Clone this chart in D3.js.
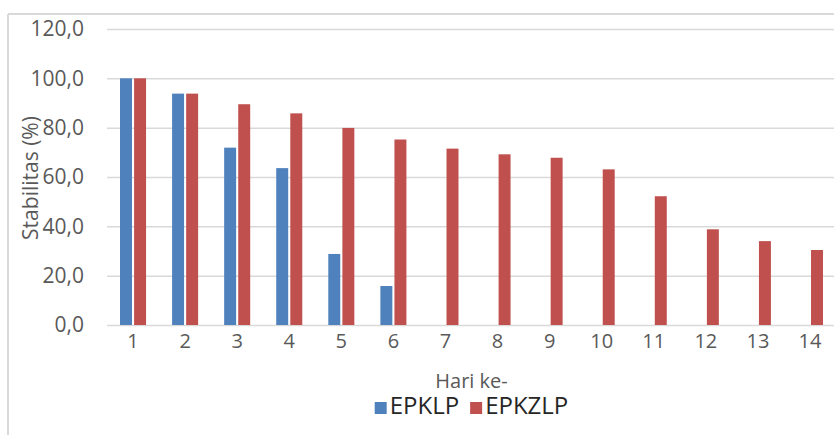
<!DOCTYPE html>
<html>
<head>
<meta charset="utf-8">
<script src="https://cdn.jsdelivr.net/npm/d3@7"></script>
<style>
  html, body { margin: 0; padding: 0; background: #fff; }
  svg { display: block; }
  text { font-family: "Open Sans", Lato, sans-serif; }
</style>
</head>
<body>
<svg id="chart" width="834" height="435"></svg>
<script>
// Stability (%) per day for the two formulations
const days = ["1","2","3","4","5","6","7","8","9","10","11","12","13","14"];
const seriesNames = ["EPKLP", "EPKZLP"];
const epklp  = [100.0, 93.8, 71.9, 63.6, 28.8, 15.8, null, null, null, null, null, null, null, null];
const epkzlp = [100.0, 93.8, 89.5, 85.8, 79.9, 75.2, 71.5, 69.2, 67.8, 63.1, 52.2, 38.8, 34.0, 30.4];
const yTicks = [0, 20, 40, 60, 80, 100, 120];
const colors = ["#4f81bd", "#c0504d"];

const svg = d3.select("#chart");
const W = 834, H = 435;
const plot = { left: 107, right: 836, top: 29, bottom: 325 };

// chart frame (left and top edges visible)
svg.append("line").attr("x1", 8).attr("x2", 8).attr("y1", 14).attr("y2", H)
  .attr("stroke", "#d9d9d9").attr("stroke-width", 2);
svg.append("line").attr("x1", 8).attr("x2", W).attr("y1", 14).attr("y2", 14)
  .attr("stroke", "#d9d9d9").attr("stroke-width", 2);

const x = d3.scaleBand().domain(days).range([plot.left, plot.right])
  .paddingInner(0.5).paddingOuter(0.25);
const xs = d3.scaleBand().domain(seriesNames).range([0, x.bandwidth()]).paddingInner(0.15);
const y = d3.scaleLinear().domain([0, 120]).range([plot.bottom, plot.top]);

const fmt = v => d3.format(".1f")(v).replace(".", ",");

// gridlines + y labels
const yAxis = d3.axisLeft(y).tickValues(yTicks).tickFormat(fmt)
  .tickSize(-(plot.right - plot.left)).tickPadding(23);
const gy = svg.append("g").attr("transform", `translate(${plot.left},0)`).call(yAxis);
gy.select(".domain").remove();
gy.selectAll(".tick line").attr("stroke", "#d9d9d9").attr("stroke-width", 1.5);
gy.selectAll(".tick text").attr("fill", "#595959").style("font-size", "21px");

// x labels
const xAxis = d3.axisBottom(x).tickSize(0).tickPadding(9);
const gx = svg.append("g").attr("transform", `translate(0,${plot.bottom})`).call(xAxis);
gx.select(".domain").remove();
gx.selectAll(".tick text").attr("fill", "#595959").style("font-size", "20px");

// bars
const series = [epklp, epkzlp];
series.forEach((vals, si) => {
  svg.append("g").selectAll("rect")
    .data(days.map((d, i) => ({ day: d, v: vals[i] })).filter(d => d.v != null))
    .join("rect")
    .attr("x", d => x(d.day) + xs(seriesNames[si]))
    .attr("width", xs.bandwidth())
    .attr("y", d => y(d.v))
    .attr("height", d => y(0) - y(d.v))
    .attr("fill", colors[si]);
});

// axis titles
svg.append("text")
  .attr("transform", `translate(32,178) rotate(-90)`)
  .attr("text-anchor", "middle").attr("dominant-baseline", "middle")
  .attr("fill", "#595959").style("font-size", "21px")
  .text("Stabilitas (%)");

const cx = (plot.left + plot.right) / 2;
svg.append("text")
  .attr("x", cx).attr("y", 383)
  .attr("text-anchor", "middle").attr("dominant-baseline", "middle")
  .attr("fill", "#595959").style("font-size", "20px")
  .text("Hari ke-");

// legend
const legend = svg.append("g");
const items = legend.selectAll("g").data(seriesNames).join("g");
items.append("rect").attr("width", 12).attr("height", 12).attr("y", -6)
  .attr("fill", (d, i) => colors[i]);
items.append("text").attr("x", 15).attr("dominant-baseline", "middle")
  .attr("fill", "#262626").style("font-size", "24px").text(d => d);
let off = 0;
items.each(function() {
  d3.select(this).attr("transform", `translate(${off},0)`);
  off += this.getBBox().width + 11;
});
off -= 11;
legend.attr("transform", `translate(${cx - off / 2},408)`);
</script>
</body>
</html>
